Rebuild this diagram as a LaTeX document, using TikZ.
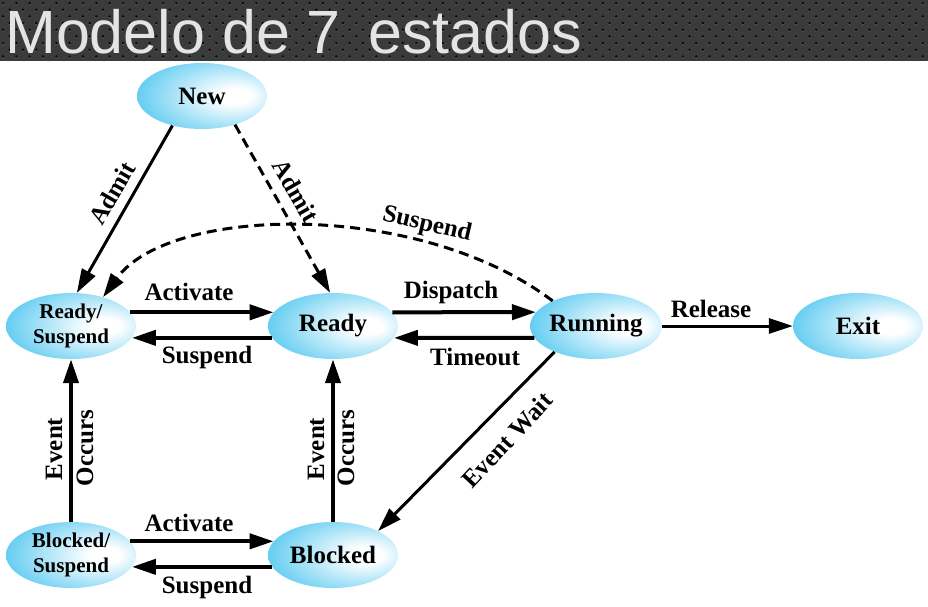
\documentclass[tikz,border=0pt]{standalone}
\usepackage{fontspec}
\setmainfont{Liberation Serif}
\newfontfamily\titlefont{Liberation Sans}
\usetikzlibrary{arrows.meta,shapes.geometric}
\definecolor{bandgray}{HTML}{3B3B3B}
\definecolor{dothl}{HTML}{555555}
\definecolor{titlegray}{HTML}{E4E4E4}
\definecolor{statecyan}{RGB}{30,182,235}
\pgfdeclareradialshading{stateshade}{\pgfpoint{14bp}{0bp}}{color(0bp)=(white); color(6bp)=(white); color(46bp)=(statecyan); color(80bp)=(statecyan)}
\tikzset{
  state/.style={ellipse, shading=stateshade, minimum width=130pt, minimum height=66pt, inner sep=0pt, font=\bfseries\fontsize{25}{27}\selectfont},
  state2/.style={state, align=center, font=\bfseries\fontsize{21}{25}\selectfont},
  lbl/.style={font=\bfseries\fontsize{25}{27}\selectfont, inner sep=0pt},
  flow/.style={line width=4pt, -{Triangle[length=24pt,width=15pt]}},
  flowthin/.style={line width=3pt, -{Triangle[length=24pt,width=15pt]}},
  dashline/.style={dash pattern=on 10pt off 6pt}
}
\begin{document}
\begin{tikzpicture}[x=1pt,y=-1pt]
\useasboundingbox (0,0) rectangle (928,606);
% title band
\fill[bandgray] (0,0) rectangle (928,61);
\begin{scope}
\clip (0,0) rectangle (928,61);
\foreach \r in {0,...,9} {
  \foreach \c in {0,...,70} {
    \fill[dothl] ({\c*13.33 + mod(\r,2)*6.67 + 3}, {\r*6.67 + 4.2}) circle (1.1);
    \fill[black] ({\c*13.33 + mod(\r,2)*6.67 + 3}, {\r*6.67 + 3}) circle (1.2);
  }
}
\end{scope}
\node[anchor=base west, text=titlegray, font=\titlefont\fontsize{61}{61}\selectfont, inner sep=0pt] (title) at (5,53) {Modelo de 7\hspace{0.45em}estados};
% states
\node[state] (new) at (202,96) {New};
\node[state2] (rs) at (71,326) {Ready/\\Suspend};
\node[state] (r) at (333,326) {Ready};
\node[state] (run) at (596,326) {Running};
\node[state] (exit) at (858,326) {Exit};
\node[state2] (bs) at (71,555) {Blocked/\\Suspend};
\node[state] (b) at (333,555) {Blocked};
% transitions
\draw[flow] (rs.13) -- (r.167);
\draw[flow] (r.191) -- (rs.349);
\draw[flow] (r.13) -- (run.167);
\draw[flow] (run.191) -- (r.349);
\draw[flowthin] (run.east) -- (exit.west);
\draw[flow] (bs.13) -- (b.167);
\draw[flow] (b.191) -- (bs.349);
\draw[flow] (bs.north) -- (rs.south);
\draw[flow] (b.north) -- (r.south);
\draw[flowthin] (run.212) -- (b.28);
\draw[flowthin] (new.225) -- (rs.80);
\draw[flowthin, dashline] (new.-41) -- (r.95);
\draw[flowthin, dashline] (run.150) .. controls (420,200) and (170,205) .. (rs.42);
% labels
\node[lbl] (lact1) at (189,292) {Activate};
\node[lbl] (lsus1) at (207,357) {Suspend};
\node[lbl] (ldis) at (451,292) {Dispatch};
\node[lbl] (ltim) at (475,357) {Timeout};
\node[lbl] (lrel) at (711,309) {Release};
\node[lbl, rotate=47] (lew) at (507,440) {Event Wait};
\node[lbl] (lact2) at (189,523) {Activate};
\node[lbl] (lsus2) at (207,587) {Suspend};
\node[lbl, rotate=90] (lev1) at (54,449) {Event};
\node[lbl, rotate=90] (loc1) at (85,448) {Occurs};
\node[lbl, rotate=90] (lev2) at (316,449) {Event};
\node[lbl, rotate=90] (loc2) at (346,448) {Occurs};
\node[lbl, rotate=60] (lad1) at (112,193) {Admit};
\node[lbl, rotate=-60] (lad2) at (296,191) {Admit};
\node[lbl, rotate=-13] (lsus3) at (427,225) {Suspend};
\end{tikzpicture}
\end{document}
